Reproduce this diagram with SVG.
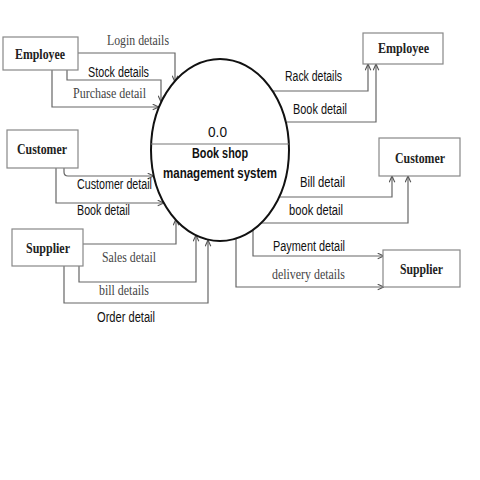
<svg xmlns="http://www.w3.org/2000/svg" width="480" height="480" viewBox="0 0 480 480">
<style>
.box{fill:#fff;stroke:#888;stroke-width:1.2}
.bl{font-family:"Liberation Serif","Times New Roman",serif;font-weight:bold;font-size:14px;fill:#222}
.ln{fill:none;stroke:#666;stroke-width:1.2}
.sl{font-family:"Liberation Sans",Arial,sans-serif;font-size:14px;fill:#111}
.rl{font-family:"Liberation Serif","Times New Roman",serif;font-size:15px;fill:#444}
.pt{font-family:"Liberation Sans",Arial,sans-serif;font-size:14px;fill:#111}
.pb{font-family:"Liberation Sans",Arial,sans-serif;font-size:15px;font-weight:bold;fill:#111}
</style>
<defs>
<marker id="arr" viewBox="0 0 10 10" refX="10" refY="5" markerWidth="7" markerHeight="7" markerUnits="userSpaceOnUse" orient="auto">
<path d="M1,1 L10,5 L1,9" fill="none" stroke="#555" stroke-width="1.6"/>
</marker>
</defs>
<rect width="480" height="480" fill="#fff"/>
<g id="connectors">
<path class="ln" d="M78,53 L175,53 L175,82" marker-end="url(#arr)"/>
<path class="ln" d="M67,70 L67,80 L161,80 L161,102" marker-end="url(#arr)"/>
<path class="ln" d="M52,70 L52,107 L159,107" marker-end="url(#arr)"/>
<path class="ln" d="M64,168 L64,172 Q64,176 68,176 L154,176" marker-end="url(#arr)"/>
<path class="ln" d="M56,168 L56,203 L164,203" marker-end="url(#arr)"/>
<path class="ln" d="M83,244 L176,244 L176,219" marker-end="url(#arr)"/>
<path class="ln" d="M79,266 L79,282 L196,282 L196,235" marker-end="url(#arr)"/>
<path class="ln" d="M64,266 L64,303 L208,303 L208,240" marker-end="url(#arr)"/>
<path class="ln" d="M272,91 L368,91 L368,64" marker-end="url(#arr)"/>
<path class="ln" d="M287,122 L376,122 L376,64" marker-end="url(#arr)"/>
<path class="ln" d="M279,197 L392,197 L392,176" marker-end="url(#arr)"/>
<path class="ln" d="M261,223 L408,223 L408,176" marker-end="url(#arr)"/>
<path class="ln" d="M253,230 L253,256 L384,256" marker-end="url(#arr)"/>
<path class="ln" d="M236,239 L236,287 L384,287" marker-end="url(#arr)"/>
</g>
<g id="labels">
<text class="rl" x="107" y="45" textLength="62" lengthAdjust="spacingAndGlyphs">Login details</text>
<text class="sl" x="88" y="77" textLength="61" lengthAdjust="spacingAndGlyphs">Stock details</text>
<text class="rl" x="73" y="98" textLength="73" lengthAdjust="spacingAndGlyphs">Purchase detail</text>
<text class="sl" x="77" y="189" textLength="75" lengthAdjust="spacingAndGlyphs">Customer detail</text>
<text class="sl" x="77" y="215" textLength="53" lengthAdjust="spacingAndGlyphs">Book detail</text>
<text class="rl" x="102" y="262" textLength="54" lengthAdjust="spacingAndGlyphs">Sales detail</text>
<text class="rl" x="99" y="295" textLength="50" lengthAdjust="spacingAndGlyphs">bill details</text>
<text class="sl" x="97" y="322" textLength="58" lengthAdjust="spacingAndGlyphs">Order detail</text>
<text class="sl" x="285" y="81" textLength="57" lengthAdjust="spacingAndGlyphs">Rack details</text>
<text class="sl" x="293" y="114" textLength="54" lengthAdjust="spacingAndGlyphs">Book detail</text>
<text class="sl" x="300" y="187" textLength="45" lengthAdjust="spacingAndGlyphs">Bill detail</text>
<text class="sl" x="289" y="215" textLength="54" lengthAdjust="spacingAndGlyphs">book detail</text>
<text class="sl" x="273" y="251" textLength="72" lengthAdjust="spacingAndGlyphs">Payment detail</text>
<text class="rl" x="272" y="279" textLength="73" lengthAdjust="spacingAndGlyphs">delivery details</text>
</g>
<g id="process">
<ellipse cx="220" cy="150" rx="69" ry="91" fill="#fff" stroke="#111" stroke-width="2"/>
<line x1="151" y1="144" x2="289" y2="144" stroke="#777" stroke-width="1.2"/>
<text class="pt" x="208" y="137" textLength="19" lengthAdjust="spacingAndGlyphs">0.0</text>
<text class="pb" x="192" y="158" textLength="56" lengthAdjust="spacingAndGlyphs">Book shop</text>
<text class="pb" x="163" y="178" textLength="114" lengthAdjust="spacingAndGlyphs">management system</text>
</g>
<g id="employee-left">
<rect class="box" x="3" y="37" width="75" height="33"/>
<text class="bl" x="15" y="59" textLength="50" lengthAdjust="spacingAndGlyphs">Employee</text>
</g>
<g id="customer-left">
<rect class="box" x="7" y="130" width="71" height="38"/>
<text class="bl" x="17" y="154" textLength="50" lengthAdjust="spacingAndGlyphs">Customer</text>
</g>
<g id="supplier-left">
<rect class="box" x="12" y="229" width="71" height="37"/>
<text class="bl" x="26" y="253" textLength="44" lengthAdjust="spacingAndGlyphs">Supplier</text>
</g>
<g id="employee-right">
<rect class="box" x="363" y="33" width="80" height="31"/>
<text class="bl" x="378" y="53" textLength="51" lengthAdjust="spacingAndGlyphs">Employee</text>
</g>
<g id="customer-right">
<rect class="box" x="379" y="138" width="81" height="38"/>
<text class="bl" x="395" y="163" textLength="50" lengthAdjust="spacingAndGlyphs">Customer</text>
</g>
<g id="supplier-right">
<rect class="box" x="383" y="250" width="77" height="37"/>
<text class="bl" x="400" y="274" textLength="43" lengthAdjust="spacingAndGlyphs">Supplier</text>
</g>
</svg>
